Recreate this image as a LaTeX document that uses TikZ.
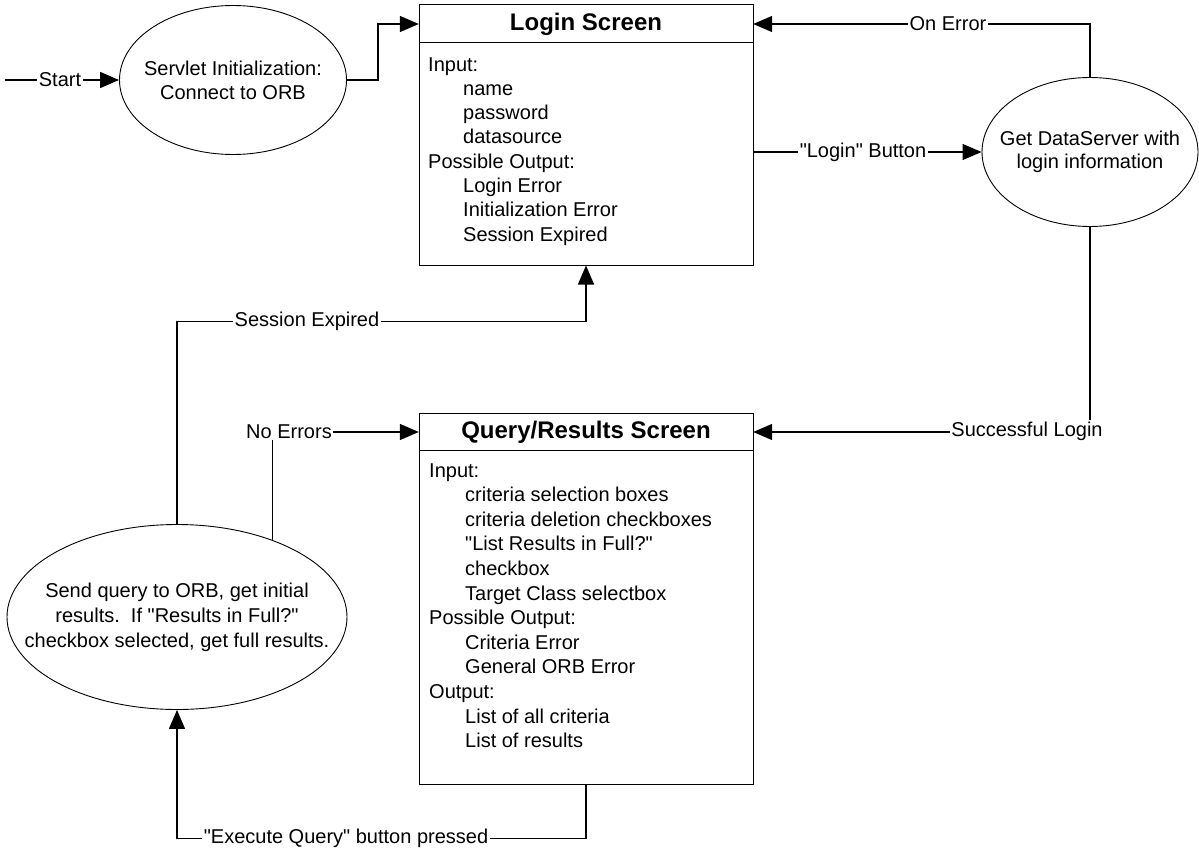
\documentclass[tikz,border=0pt]{standalone}
\usepackage{fontspec}
\setmainfont{Liberation Sans}[Ligatures=TeXOff]
\usetikzlibrary{arrows.meta,shapes.geometric,calc}
% straight double quote
\newcommand{\dqt}{{\char34}}

\begin{document}
\begin{tikzpicture}[x=1pt,y=-1pt,
  every node/.style={font=\fontsize{20}{24}\selectfont},
  flow/.style={line width=1.4pt,-{Triangle[length=19pt,width=16pt]}},
  state/.style={ellipse,draw,line width=0.9pt,inner sep=0pt},
  statetext/.style={align=center,inner sep=0pt},
  screen/.style={draw,line width=1pt,rectangle,inner sep=0pt},
  screentitle/.style={font=\fontsize{24}{28}\selectfont\bfseries,minimum width=334pt,minimum height=36pt,inner sep=0pt},
  lbl/.style={fill=white,inner sep=1.5pt},
  item/.style={anchor=base west,inner sep=0pt}]

\fill[white] (0,0) rectangle (1199,851);
\useasboundingbox (0,0) rectangle (1199,851);

% Screens
\node[screen,minimum width=334pt,minimum height=260pt] (login) at (586,135) {};
\node[screentitle] (logint) at (586,24) {Login Screen};
\draw[line width=1pt] (login.west |- 0,43) -- (login.east |- 0,43);
\foreach \ind/\t [count=\i] in {0/Input:, 1/name, 1/password, 1/datasource,
    0/Possible Output:, 1/Login Error, 1/Initialization Error, 1/Session Expired}
  \node[item] (li\i) at (428+35*\ind, 71+24.3*\i-24.3) {\t};

\node[screen,minimum width=334pt,minimum height=371pt] (query) at (586,598.5) {};
\node[screentitle] (queryt) at (586,432) {Query/Results Screen};
\draw[line width=1pt] (query.west |- 0,450) -- (query.east |- 0,450);
\foreach \ind/\t [count=\i] in {0/Input:, 1/criteria selection boxes,
    1/criteria deletion checkboxes, 1/\dqt List Results in Full?\dqt, 1/checkbox,
    1/Target Class selectbox, 0/Possible Output:, 1/Criteria Error,
    1/General ORB Error, 0/Output:, 1/List of all criteria, 1/List of results}
  \node[item] (qi\i) at (429+36*\ind, 477+24.6*\i-24.6) {\t};

% Processing steps
\node[state,minimum width=227pt,minimum height=149pt] (init) at (233,80) {};
\node[statetext] (initt) at (init) {Servlet Initialization:\\Connect to ORB};

\node[state,minimum width=216pt,minimum height=149pt] (dataserver) at (1090,152) {};
\node[statetext,font=\fontsize{20}{22.5}\selectfont] (dataservert) at (dataserver) {Get DataServer with\\login information};

\node[state,minimum width=340pt,minimum height=185pt] (sendq) at (177,617) {};
\node[statetext,font=\fontsize{20}{25}\selectfont] (sendqt) at (sendq) {Send query to ORB, get initial\\results.\ \ If \dqt Results in Full?\dqt\\checkbox selected, get full results.};

% Transitions
\coordinate (startpt) at (5,80);
\draw[flow] (startpt) -- (init.west);
\node[lbl] (startl) at (60,80) {Start};

\draw[flow] (init.east) -- ($(init.east)+(31,0)$) |- (logint.west);

\draw[flow] (login.east |- dataserver.west) -- (dataserver.west);
\node[lbl] (loginbl) at (863,152) {\dqt Login\dqt\ Button};

\draw[flow] (dataserver.north) |- (logint.east);
\node[lbl] (onerrl) at (948,24) {On Error};

\draw[flow] (dataserver.south) |- (queryt.east);
\node[lbl] (succl) at (1027,431) {Successful Login};

\coordinate (sebend) at ($(login.south)+(0,56)$);
\draw[flow] (sendq.north) |- (sebend) -- (login.south);
\node[lbl] (sessl) at (307,321) {Session Expired};

\draw[flow] (sendq.39) |- (queryt.west);
\node[lbl] (noerrl) at (289,432) {No Errors};

\draw[flow] (query.south) -- ++(0,54) -| (sendq.south);
\node[lbl] (execl) at (346,838) {\dqt Execute Query\dqt\ button pressed};
\end{tikzpicture}
\end{document}
